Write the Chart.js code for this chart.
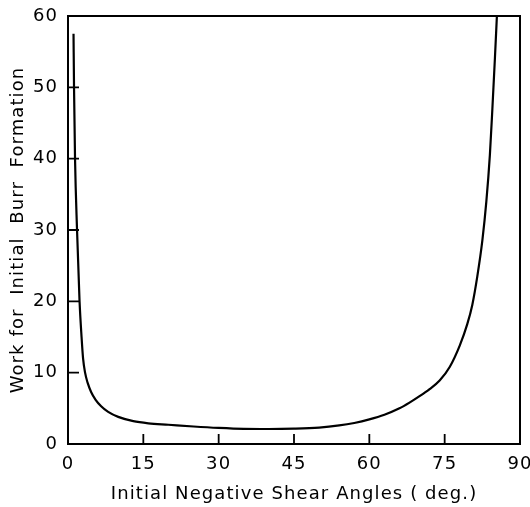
<!DOCTYPE html>
<html>
<head>
<meta charset="utf-8">
<script src="https://cdn.jsdelivr.net/npm/chart.js@4.4.1/dist/chart.umd.min.js"></script>
<style>
  html, body { margin: 0; padding: 0; background: #fff; }
  #wrap { width: 530px; height: 507px; }
</style>
</head>
<body>
<div id="wrap"><canvas id="c" width="530" height="507"></canvas></div>
<script>
// Data
const shearAngles = [1.1, 1.2, 1.4, 1.8, 2.3, 2.7, 3.0, 3.4, 3.9, 4.6, 5.5, 6.6, 8, 10, 13, 16, 20, 25, 30, 35, 40, 45, 50, 54, 57, 60, 63, 66, 68, 70, 72, 74, 76, 78, 79.5, 80.5, 81.5, 82.5, 83.3, 84, 84.5, 85, 85.4];
const burrWork    = [57.5, 50, 40, 30, 20, 15, 12, 10, 8.6, 7.3, 6.2, 5.3, 4.5, 3.8, 3.2, 2.9, 2.7, 2.45, 2.25, 2.12, 2.1, 2.15, 2.3, 2.6, 2.95, 3.45, 4.1, 5.0, 5.8, 6.7, 7.7, 8.9, 10.8, 13.8, 16.8, 19.5, 23.5, 28.5, 34, 40.5, 47, 54, 60];
const xTickValues = [0, 15, 30, 45, 60, 75, 90];
const yTickValues = [0, 10, 20, 30, 40, 50, 60];
const xInnerTicks = [15, 30, 45, 60, 75];
const yInnerTicks = [10, 20, 30, 40, 50];
const xTitle = 'Initial Negative Shear Angles ( deg.)';
const yTitle = 'Work for  Initial  Burr  Formation';

const points = shearAngles.map((x, i) => ({ x: x, y: burrWork[i] }));
const FONT = 'DejaVu Sans';

const framePlugin = {
  id: 'frame',
  beforeDraw(chart) {
    chart.ctx.letterSpacing = '1.1px';
  },
  afterDatasetsDraw(chart) {
    const { ctx, chartArea: a, scales } = chart;
    ctx.save();
    ctx.strokeStyle = '#000';
    ctx.lineWidth = 2;
    ctx.strokeRect(a.left, a.top, a.right - a.left, a.bottom - a.top);
    ctx.lineWidth = 1.8;
    ctx.beginPath();
    xInnerTicks.forEach(v => {
      const px = scales.x.getPixelForValue(v);
      ctx.moveTo(px, a.bottom);
      ctx.lineTo(px, a.bottom - 10);
    });
    yInnerTicks.forEach(v => {
      const py = scales.y.getPixelForValue(v);
      ctx.moveTo(a.left, py);
      ctx.lineTo(a.left + 11, py);
    });
    ctx.stroke();
    ctx.restore();
  }
};

new Chart(document.getElementById('c'), {
  type: 'scatter',
  data: {
    datasets: [{
      data: points,
      showLine: true,
      borderColor: '#000',
      borderWidth: 2.2,
      pointRadius: 0,
      cubicInterpolationMode: 'monotone',
      fill: false
    }]
  },
  options: {
    responsive: false,
    animation: false,
    devicePixelRatio: 1,
    layout: { padding: { left: 0, right: 10, top: 16, bottom: 0 } },
    plugins: { legend: { display: false }, tooltip: { enabled: false } },
    scales: {
      x: {
        type: 'linear',
        min: 0, max: 90,
        afterBuildTicks: s => { s.ticks = xTickValues.map(v => ({ value: v })); },
        afterFit: s => { s.height = 63; s.paddingLeft = 0; s.paddingRight = 0; },
        grid: { display: false, drawTicks: false },
        border: { display: false },
        ticks: { color: '#000', font: { family: FONT, size: 18 }, padding: 10, maxRotation: 0 },
        title: { display: true, text: xTitle, color: '#000', font: { family: FONT, size: 18 }, padding: { top: 0, bottom: 2 } }
      },
      y: {
        type: 'linear',
        min: 0, max: 60,
        afterBuildTicks: s => { s.ticks = yTickValues.map(v => ({ value: v })); },
        afterFit: s => { s.width = 68; s.paddingTop = 0; s.paddingBottom = 0; },
        grid: { display: false, drawTicks: false },
        border: { display: false },
        ticks: { color: '#000', font: { family: FONT, size: 18 }, padding: 10 },
        title: { display: true, text: yTitle, color: '#000', font: { family: FONT, size: 18 }, padding: { top: 8, bottom: 0 } }
      }
    }
  },
  plugins: [framePlugin]
});
</script>
</body>
</html>
